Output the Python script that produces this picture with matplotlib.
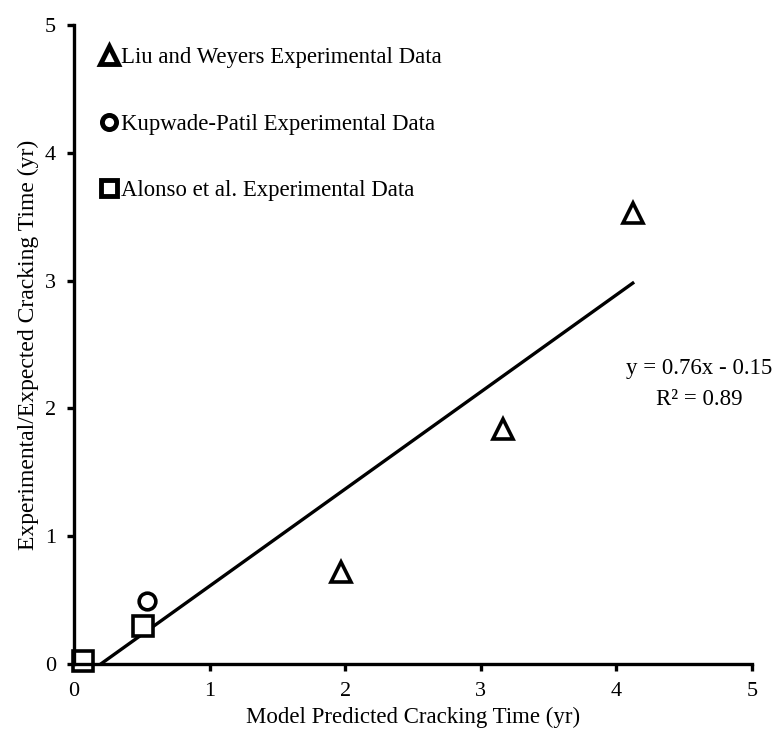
import matplotlib
matplotlib.use("Agg")
import matplotlib.pyplot as plt
import numpy as np

plt.rcParams['font.family'] = ['Liberation Serif', 'DejaVu Serif']

liu_x = [1.97, 3.16, 4.12]
liu_y = [0.72, 1.84, 3.53]
kup_x = [0.54]
kup_y = [0.49]
alo_x = [0.07, 0.51]
alo_y = [0.02, 0.30]
slope, intercept = 0.76, -0.15
fit_x = [0.2, 4.12]
ticks = [0, 1, 2, 3, 4, 5]

fig = plt.figure(figsize=(7.73, 7.36), dpi=100)
ax = fig.add_axes([0.0957, 0.0978, 0.8773, 0.868])

mk = dict(linestyle='none', markerfacecolor='white', markeredgecolor='black',
          markeredgewidth=2.6, clip_on=False)
ax.plot(liu_x, liu_y, marker='^', markersize=15, label='Liu and Weyers Experimental Data', **mk)
ax.plot(kup_x, kup_y, marker='o', markersize=12, label='Kupwade-Patil Experimental Data', **mk)
ax.plot(alo_x, alo_y, marker='s', markersize=14, label='Alonso et al. Experimental Data', **mk)
fx = np.array(fit_x)
ax.plot(fx, slope * fx + intercept, color='black', linewidth=2.4, zorder=1)

ax.text(4.61, 2.31, 'y = 0.76x - 0.15', fontsize=16.5, ha='center', va='center', clip_on=False)
ax.text(4.61, 2.07, 'R\u00b2 = 0.89', fontsize=16.5, ha='center', va='center', clip_on=False)

ax.set_xlim(0, 5)
ax.set_ylim(0, 5)
ax.set_xticks(ticks)
ax.set_yticks(ticks)
ax.tick_params(direction='out', length=5, width=2.4, labelsize=16, pad=8)
for s in ['top', 'right']:
    ax.spines[s].set_visible(False)
for s in ['left', 'bottom']:
    ax.spines[s].set_linewidth(2.4)
ax.set_xlabel('Model Predicted Cracking Time (yr)', fontsize=16.5, labelpad=4)
ax.set_ylabel('Experimental/Expected Cracking Time (yr)', fontsize=17, labelpad=4)

leg = ax.legend(loc='upper left', bbox_to_anchor=(0.012, 0.998), frameon=False, fontsize=16.4,
                labelspacing=2.0, handlelength=0.6, handletextpad=0.2, markerscale=0.85)
for h in leg.legend_handles:
    h.set_markeredgewidth(3.5)

fig.savefig('out.png', dpi=100)
